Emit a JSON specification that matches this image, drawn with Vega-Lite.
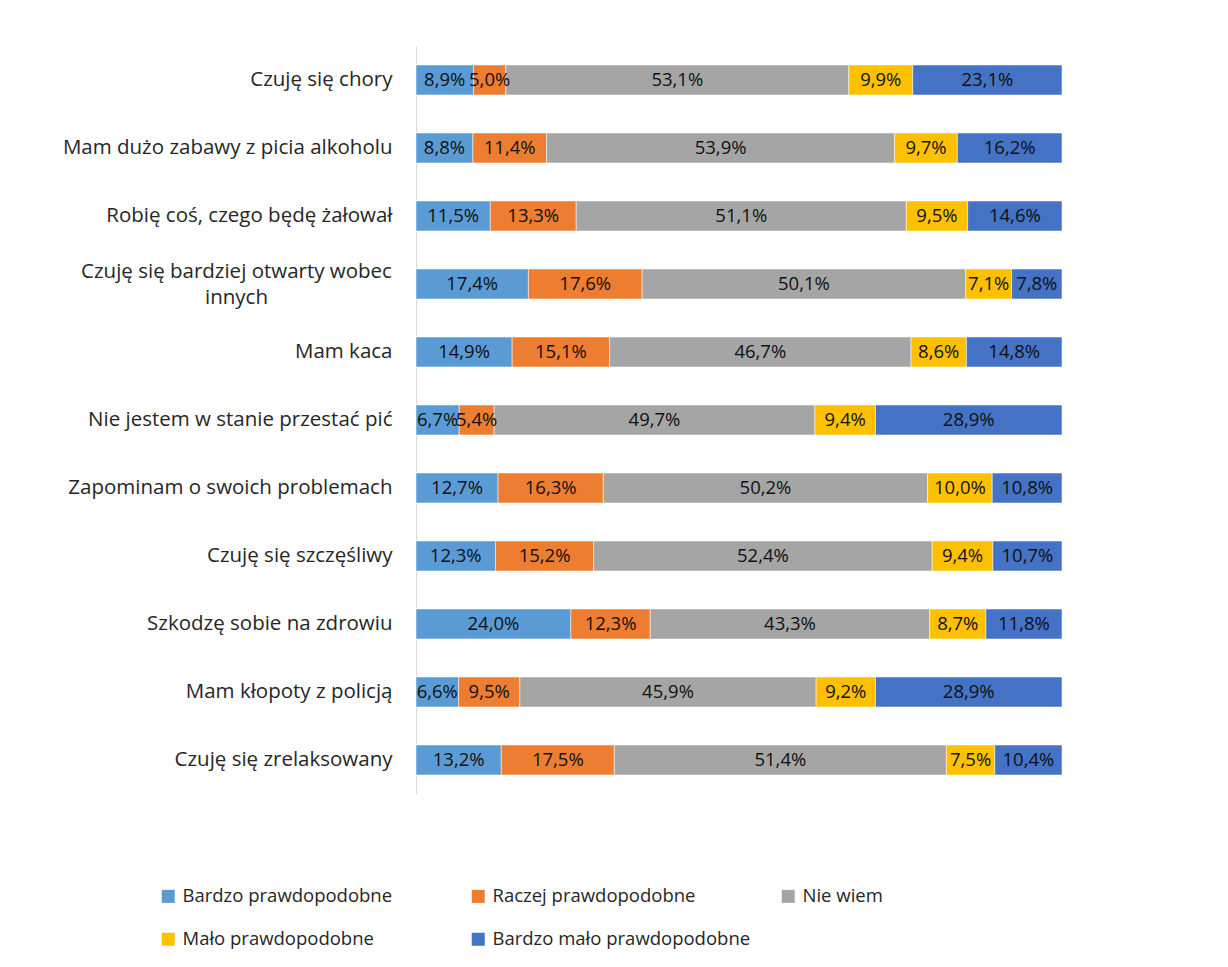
{
  "$schema": "https://vega.github.io/schema/vega-lite/v6.json",
  "autosize": {"type": "none"},
  "padding": {"left": 416, "top": 46, "right": 166, "bottom": 173},
  "width": 646,
  "height": 748,
  "background": "white",
  "config": {"view": {"stroke": null}, "font": "Open Sans"},
  "data": {"values": [
    {"q": "Czuję się chory", "r": "Bardzo prawdopodobne", "o": 1, "v": 8.9},
    {"q": "Czuję się chory", "r": "Raczej prawdopodobne", "o": 2, "v": 5.0},
    {"q": "Czuję się chory", "r": "Nie wiem", "o": 3, "v": 53.1},
    {"q": "Czuję się chory", "r": "Mało prawdopodobne", "o": 4, "v": 9.9},
    {"q": "Czuję się chory", "r": "Bardzo mało prawdopodobne", "o": 5, "v": 23.1},
    {"q": "Mam dużo zabawy z picia alkoholu", "r": "Bardzo prawdopodobne", "o": 1, "v": 8.8},
    {"q": "Mam dużo zabawy z picia alkoholu", "r": "Raczej prawdopodobne", "o": 2, "v": 11.4},
    {"q": "Mam dużo zabawy z picia alkoholu", "r": "Nie wiem", "o": 3, "v": 53.9},
    {"q": "Mam dużo zabawy z picia alkoholu", "r": "Mało prawdopodobne", "o": 4, "v": 9.7},
    {"q": "Mam dużo zabawy z picia alkoholu", "r": "Bardzo mało prawdopodobne", "o": 5, "v": 16.2},
    {"q": "Robię coś, czego będę żałował", "r": "Bardzo prawdopodobne", "o": 1, "v": 11.5},
    {"q": "Robię coś, czego będę żałował", "r": "Raczej prawdopodobne", "o": 2, "v": 13.3},
    {"q": "Robię coś, czego będę żałował", "r": "Nie wiem", "o": 3, "v": 51.1},
    {"q": "Robię coś, czego będę żałował", "r": "Mało prawdopodobne", "o": 4, "v": 9.5},
    {"q": "Robię coś, czego będę żałował", "r": "Bardzo mało prawdopodobne", "o": 5, "v": 14.6},
    {"q": "Czuję się bardziej otwarty wobec innych", "r": "Bardzo prawdopodobne", "o": 1, "v": 17.4},
    {"q": "Czuję się bardziej otwarty wobec innych", "r": "Raczej prawdopodobne", "o": 2, "v": 17.6},
    {"q": "Czuję się bardziej otwarty wobec innych", "r": "Nie wiem", "o": 3, "v": 50.1},
    {"q": "Czuję się bardziej otwarty wobec innych", "r": "Mało prawdopodobne", "o": 4, "v": 7.1},
    {"q": "Czuję się bardziej otwarty wobec innych", "r": "Bardzo mało prawdopodobne", "o": 5, "v": 7.8},
    {"q": "Mam kaca", "r": "Bardzo prawdopodobne", "o": 1, "v": 14.9},
    {"q": "Mam kaca", "r": "Raczej prawdopodobne", "o": 2, "v": 15.1},
    {"q": "Mam kaca", "r": "Nie wiem", "o": 3, "v": 46.7},
    {"q": "Mam kaca", "r": "Mało prawdopodobne", "o": 4, "v": 8.6},
    {"q": "Mam kaca", "r": "Bardzo mało prawdopodobne", "o": 5, "v": 14.8},
    {"q": "Nie jestem w stanie przestać pić", "r": "Bardzo prawdopodobne", "o": 1, "v": 6.7},
    {"q": "Nie jestem w stanie przestać pić", "r": "Raczej prawdopodobne", "o": 2, "v": 5.4},
    {"q": "Nie jestem w stanie przestać pić", "r": "Nie wiem", "o": 3, "v": 49.7},
    {"q": "Nie jestem w stanie przestać pić", "r": "Mało prawdopodobne", "o": 4, "v": 9.4},
    {"q": "Nie jestem w stanie przestać pić", "r": "Bardzo mało prawdopodobne", "o": 5, "v": 28.9},
    {"q": "Zapominam o swoich problemach", "r": "Bardzo prawdopodobne", "o": 1, "v": 12.7},
    {"q": "Zapominam o swoich problemach", "r": "Raczej prawdopodobne", "o": 2, "v": 16.3},
    {"q": "Zapominam o swoich problemach", "r": "Nie wiem", "o": 3, "v": 50.2},
    {"q": "Zapominam o swoich problemach", "r": "Mało prawdopodobne", "o": 4, "v": 10.0},
    {"q": "Zapominam o swoich problemach", "r": "Bardzo mało prawdopodobne", "o": 5, "v": 10.8},
    {"q": "Czuję się szczęśliwy", "r": "Bardzo prawdopodobne", "o": 1, "v": 12.3},
    {"q": "Czuję się szczęśliwy", "r": "Raczej prawdopodobne", "o": 2, "v": 15.2},
    {"q": "Czuję się szczęśliwy", "r": "Nie wiem", "o": 3, "v": 52.4},
    {"q": "Czuję się szczęśliwy", "r": "Mało prawdopodobne", "o": 4, "v": 9.4},
    {"q": "Czuję się szczęśliwy", "r": "Bardzo mało prawdopodobne", "o": 5, "v": 10.7},
    {"q": "Szkodzę sobie na zdrowiu", "r": "Bardzo prawdopodobne", "o": 1, "v": 24.0},
    {"q": "Szkodzę sobie na zdrowiu", "r": "Raczej prawdopodobne", "o": 2, "v": 12.3},
    {"q": "Szkodzę sobie na zdrowiu", "r": "Nie wiem", "o": 3, "v": 43.3},
    {"q": "Szkodzę sobie na zdrowiu", "r": "Mało prawdopodobne", "o": 4, "v": 8.7},
    {"q": "Szkodzę sobie na zdrowiu", "r": "Bardzo mało prawdopodobne", "o": 5, "v": 11.8},
    {"q": "Mam kłopoty z policją", "r": "Bardzo prawdopodobne", "o": 1, "v": 6.6},
    {"q": "Mam kłopoty z policją", "r": "Raczej prawdopodobne", "o": 2, "v": 9.5},
    {"q": "Mam kłopoty z policją", "r": "Nie wiem", "o": 3, "v": 45.9},
    {"q": "Mam kłopoty z policją", "r": "Mało prawdopodobne", "o": 4, "v": 9.2},
    {"q": "Mam kłopoty z policją", "r": "Bardzo mało prawdopodobne", "o": 5, "v": 28.9},
    {"q": "Czuję się zrelaksowany", "r": "Bardzo prawdopodobne", "o": 1, "v": 13.2},
    {"q": "Czuję się zrelaksowany", "r": "Raczej prawdopodobne", "o": 2, "v": 17.5},
    {"q": "Czuję się zrelaksowany", "r": "Nie wiem", "o": 3, "v": 51.4},
    {"q": "Czuję się zrelaksowany", "r": "Mało prawdopodobne", "o": 4, "v": 7.5},
    {"q": "Czuję się zrelaksowany", "r": "Bardzo mało prawdopodobne", "o": 5, "v": 10.4}
  ]},
  "transform": [
    {"stack": "v", "groupby": ["q"], "sort": [{"field": "o", "order": "ascending"}], "as": ["x0", "x1"], "offset": "normalize"},
    {"calculate": "(datum.x0 + datum.x1) / 2", "as": "xm"},
    {"calculate": "replace(format(datum.v, '.1f'), '.', ',') + '%'", "as": "lab"}
  ],
  "encoding": {
    "y": {
      "field": "q", "type": "nominal",
      "sort": ["Czuję się chory", "Mam dużo zabawy z picia alkoholu", "Robię coś, czego będę żałował", "Czuję się bardziej otwarty wobec innych", "Mam kaca", "Nie jestem w stanie przestać pić", "Zapominam o swoich problemach", "Czuję się szczęśliwy", "Szkodzę sobie na zdrowiu", "Mam kłopoty z policją", "Czuję się zrelaksowany"],
      "scale": {"paddingInner": 0.56, "paddingOuter": 0.28},
      "axis": {
        "title": null, "ticks": false, "domainColor": "#D9D9D9", "domainWidth": 1,
        "labelFont": "Open Sans", "labelFontSize": 20.5, "labelColor": "#262626", "labelLimit": 400,
        "labelPadding": {"condition": {"test": "datum.value == 'Czuję się bardziej otwarty wobec innych'", "value": 180}, "value": 24},
        "labelAlign": {"condition": {"test": "datum.value == 'Czuję się bardziej otwarty wobec innych'", "value": "center"}, "value": "right"},
        "labelOffset": {"condition": {"test": "datum.value == 'Czuję się bardziej otwarty wobec innych'", "value": -12}, "value": 0},
        "labelLineHeight": 26,
        "labelExpr": "datum.value == 'Czuję się bardziej otwarty wobec innych' ? ['Czuję się bardziej otwarty wobec', 'innych'] : datum.value"
      }
    }
  },
  "layer": [
    {
      "mark": {"type": "bar", "stroke": "white", "strokeWidth": 0.5},
      "encoding": {
        "x": {"field": "x0", "type": "quantitative", "scale": {"domain": [0, 1], "nice": false}, "axis": null},
        "x2": {"field": "x1"},
        "color": {
          "field": "r", "type": "nominal",
          "sort": ["Bardzo prawdopodobne", "Raczej prawdopodobne", "Nie wiem", "Mało prawdopodobne", "Bardzo mało prawdopodobne"],
          "scale": {
            "domain": ["Bardzo prawdopodobne", "Raczej prawdopodobne", "Nie wiem", "Mało prawdopodobne", "Bardzo mało prawdopodobne"],
            "range": ["#5B9BD5", "#ED7D31", "#A5A5A5", "#FFC000", "#4472C4"]
          },
          "legend": {
            "title": null, "orient": "none", "legendX": -257, "legendY": 841,
            "direction": "horizontal", "columns": 3, "gridAlign": "all", "columnPadding": 28, "rowPadding": 24,
            "symbolType": "square", "symbolSize": 169, "symbolStrokeWidth": 0, "symbolOffset": 0,
            "labelFont": "Open Sans", "labelFontSize": 18.5, "labelColor": "#262626", "labelOffset": 5, "labelLimit": 400
          }
        }
      }
    },
    {
      "mark": {"type": "text", "font": "Open Sans", "fontSize": 18.5, "color": "#111111", "align": "center", "baseline": "middle"},
      "encoding": {
        "x": {"field": "xm", "type": "quantitative", "scale": {"domain": [0, 1], "nice": false}},
        "text": {"field": "lab", "type": "nominal"}
      }
    }
  ]
}
